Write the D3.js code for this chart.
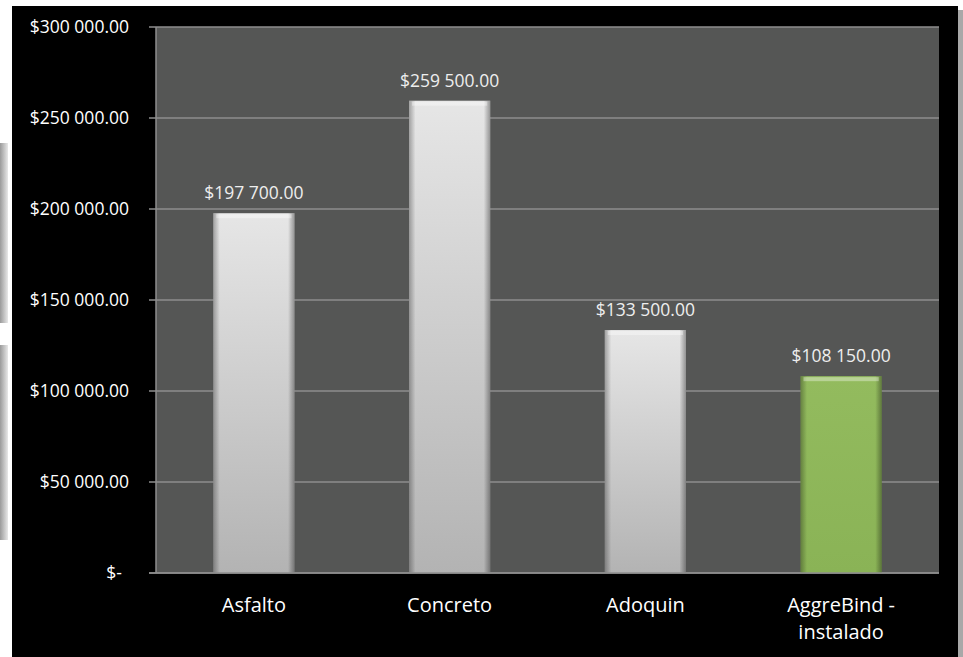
<!DOCTYPE html>
<html>
<head>
<meta charset="utf-8">
<script src="https://cdn.jsdelivr.net/npm/d3@7"></script>
<style>
  body { margin: 0; background: #fff; }
  svg { display: block; font-family: "Open Sans", "Noto Sans", sans-serif; }
</style>
</head>
<body>
<div id="chart"></div>
<script>
const categories = ["Asfalto", "Concreto", "Adoquin", "AggreBind - instalado"];
const costs = [197700, 259500, 133500, 108150];
const highlight = [false, false, false, true];
const tickValues = [0, 50000, 100000, 150000, 200000, 250000, 300000];

const W = 963, H = 657;
const margin = {top: 27, right: 24, bottom: 84, left: 156};

const svg = d3.select("#chart").append("svg")
    .attr("width", W)
    .attr("height", H);

// page bits around the chart (shadows of neighbouring shapes)
const defs = svg.append("defs");
const sh = defs.append("linearGradient").attr("id", "sideShadow");
sh.append("stop").attr("offset", "0%").attr("stop-color", "#9a9a9a");
sh.append("stop").attr("offset", "100%").attr("stop-color", "#e8e8e8");
svg.append("rect").attr("x", 0).attr("y", 143).attr("width", 8).attr("height", 180).attr("fill", "url(#sideShadow)");
svg.append("rect").attr("x", 0).attr("y", 345).attr("width", 8).attr("height", 195).attr("fill", "url(#sideShadow)");
svg.append("rect").attr("x", 958).attr("y", 10).attr("width", 5).attr("height", H - 10).attr("fill", "#a8a8a8");

// black chart frame
svg.append("rect")
    .attr("x", 12).attr("y", 6)
    .attr("width", 946).attr("height", H - 6)
    .attr("fill", "#000");

const width = W - margin.left - margin.right,
      height = H - margin.top - margin.bottom;

// bar gradients
function barGradient(id, top, bottom) {
  const g = defs.append("linearGradient").attr("id", id)
      .attr("x1", 0).attr("y1", 0).attr("x2", 0).attr("y2", 1);
  g.append("stop").attr("offset", "0%").attr("stop-color", top);
  g.append("stop").attr("offset", "100%").attr("stop-color", bottom);
}
barGradient("grayBar", "#e6e6e6", "#b3b3b3");
barGradient("greenBar", "#93bb5e", "#8ab356");

const edge = defs.append("linearGradient").attr("id", "edge");
edge.append("stop").attr("offset", "0%").attr("stop-color", "#000").attr("stop-opacity", 0.3);
edge.append("stop").attr("offset", "8%").attr("stop-color", "#000").attr("stop-opacity", 0);
edge.append("stop").attr("offset", "92%").attr("stop-color", "#000").attr("stop-opacity", 0);
edge.append("stop").attr("offset", "100%").attr("stop-color", "#000").attr("stop-opacity", 0.35);

const g = svg.append("g")
    .attr("transform", `translate(${margin.left},${margin.top})`);

const x = d3.scaleBand()
    .domain(categories)
    .range([0, width])
    .paddingInner(0.585)
    .paddingOuter(0.2925);

const y = d3.scaleLinear()
    .domain([0, 300000])
    .range([height, 0]);

g.append("rect")
    .attr("width", width).attr("height", height)
    .attr("fill", "#555655");

// grid
g.selectAll(".grid")
    .data(tickValues)
    .enter().append("line")
    .attr("x1", -7).attr("x2", width)
    .attr("y1", d => y(d)).attr("y2", d => y(d))
    .attr("stroke", "#8e8e8e")
    .attr("stroke-width", 1.5);

g.append("line")
    .attr("x1", 0).attr("x2", 0)
    .attr("y1", 0).attr("y2", height)
    .attr("stroke", "#8e8e8e")
    .attr("stroke-width", 1.5);

const fmt = v => v === 0 ? "$-" :
    "$" + d3.format(",.2f")(v).replace(/,/g, " ");

const yAxis = d3.axisLeft(y)
    .tickValues(tickValues)
    .tickSize(0)
    .tickPadding(27)
    .tickFormat(fmt);

g.append("g")
    .call(yAxis)
    .attr("font-family", null)
    .attr("font-size", null)
    .call(a => a.select(".domain").remove())
    .selectAll("text")
    .attr("fill", "#fff")
    .attr("font-size", "17.5px")
    .attr("dx", d => d === 0 ? -7 : 0);

// bars
const bars = g.selectAll(".bar")
    .data(costs)
    .enter().append("g")
    .attr("class", "bar");

bars.append("rect")
    .attr("x", (d, i) => x(categories[i]))
    .attr("y", d => y(d))
    .attr("width", x.bandwidth())
    .attr("height", d => height - y(d))
    .attr("fill", (d, i) => highlight[i] ? "url(#greenBar)" : "url(#grayBar)");

bars.append("rect")
    .attr("x", (d, i) => x(categories[i]))
    .attr("y", d => y(d))
    .attr("width", x.bandwidth())
    .attr("height", d => height - y(d))
    .attr("fill", "url(#edge)");

bars.append("rect")
    .attr("x", (d, i) => x(categories[i]) + 3)
    .attr("y", d => y(d) + 1)
    .attr("width", x.bandwidth() - 6)
    .attr("height", 4)
    .attr("fill", "#fff")
    .attr("opacity", 0.35);

bars.append("text")
    .attr("x", (d, i) => x(categories[i]) + x.bandwidth() / 2)
    .attr("y", d => y(d) - 14)
    .attr("text-anchor", "middle")
    .attr("fill", "#eee")
    .attr("font-size", "17.5px")
    .text(d => fmt(d));

// bottom axis line
g.append("line")
    .attr("x1", -7).attr("x2", width)
    .attr("y1", height).attr("y2", height)
    .attr("stroke", "#8e8e8e")
    .attr("stroke-width", 1.5);

// category labels
const xl = g.selectAll(".xlab")
    .data(categories)
    .enter().append("text")
    .attr("text-anchor", "middle")
    .attr("fill", "#fff")
    .attr("font-size", "20px")
    .attr("transform", d => `translate(${x(d) + x.bandwidth() / 2},${height + 38.5})`);

xl.each(function(d) {
  const parts = d === "AggreBind - instalado" ? ["AggreBind -", "instalado"] : [d];
  d3.select(this).selectAll("tspan")
    .data(parts)
    .enter().append("tspan")
    .attr("x", 0)
    .attr("dy", (p, i) => i ? 27.5 : 0)
    .text(p => p);
});
</script>
</body>
</html>
